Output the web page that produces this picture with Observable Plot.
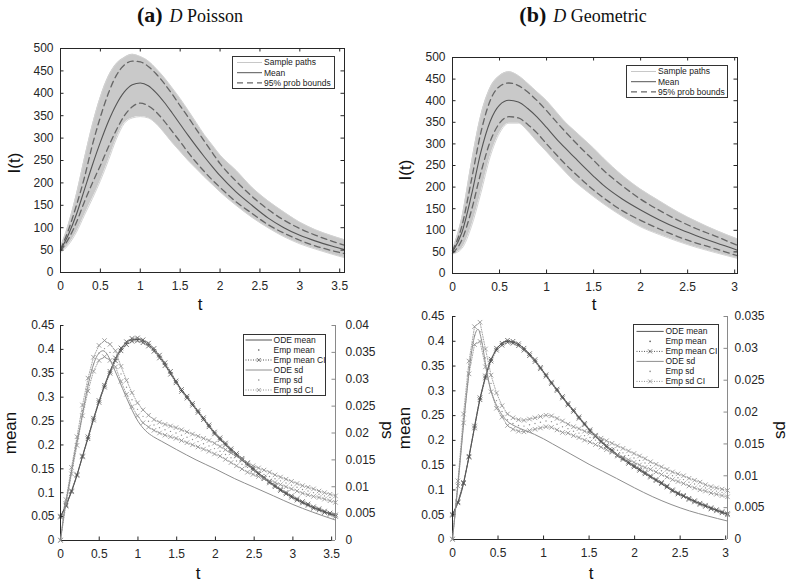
<!DOCTYPE html>
<html><head><meta charset="utf-8">
<script src="https://cdn.jsdelivr.net/npm/d3@7"></script>
<script src="https://cdn.jsdelivr.net/npm/@observablehq/plot@0.6"></script>
<style>
html,body{margin:0;padding:0;background:#fff;}
body{width:788px;height:584px;position:relative;overflow:hidden;font-family:"Liberation Sans",Arial,Helvetica,sans-serif;color:#111;}
.abs{position:absolute;}
.title{font-family:"Liberation Serif","Times New Roman",serif;font-size:18px;white-space:nowrap;transform:translate(-50%,-50%);}
.title b{font-size:22px;margin-right:7px;}
.lab{font-size:17px;white-space:nowrap;transform:translate(-50%,-50%);line-height:1;}
.rot{transform:translate(-50%,-50%) rotate(-90deg);}
</style></head>
<body>
<script>
// ---------- panel (a) top : D Poisson, I(t) ----------
const tTopA = [0,0.1,0.2,0.3,0.4,0.5,0.6,0.7,0.8,0.9,1.0,1.1,1.2,1.3,1.4,1.5,1.6,1.7,1.8,1.9,2.0,2.2,2.4,2.6,2.8,3.0,3.2,3.4,3.56];
const meanTopA = [50,85,130,185,240,291,337,375,403,419,423,417,401,380,356,331,306,282,259,237,216,180,150,122,100,83,70,59,51];
const boundHiA = [52,95,150,212,285,347,400,440,463,472,470,460,443,422,398,372,347,320,294,268,243,204,170,141,117,98,83,70,61];
const boundLoA = [48,75,112,158,200,239,280,318,350,370,378,372,358,338,315,292,268,246,226,207,190,158,132,107,88,72,59,49,42];
const pathsHiA = [56,108,175,255,330,392,438,466,480,487,482,472,455,435,412,388,362,335,308,285,262,228,190,160,135,112,95,82,73];
const pathsLoA = [44,62,90,128,165,205,250,298,333,345,348,345,332,312,290,270,250,232,214,197,180,150,123,100,80,64,52,41,33];

// ---------- panel (b) top : D Geometric, I(t) ----------
const tTopB = [0,0.1,0.2,0.3,0.4,0.5,0.6,0.7,0.8,0.9,1.0,1.1,1.2,1.3,1.4,1.5,1.6,1.8,2.0,2.2,2.4,2.6,2.8,3.03];
const meanTopB = [50,95,180,280,352,390,401,397,382,362,338,313,290,268,246,225,205,173,147,124,104,87,71,54];
const boundHiB = [53,110,215,325,400,433,441,435,420,400,377,352,328,305,283,262,240,204,172,146,123,103,86,65];
const boundLoB = [47,78,145,232,305,348,363,360,345,325,300,276,253,232,212,193,176,146,123,103,85,70,57,41];
const pathsHiB = [55,130,255,365,430,458,467,458,440,420,400,375,350,330,310,290,268,228,195,168,142,120,100,80];
const pathsLoB = [45,58,108,185,270,325,348,348,330,305,282,258,235,213,195,178,162,133,108,90,74,60,48,35];

// ---------- panel (a) bottom : mean / sd ----------
const tOdeA = [0,0.05,0.1,0.15,0.2,0.25,0.3,0.35,0.4,0.45,0.5,0.55,0.6,0.65,0.7,0.8,0.9,1.0,1.1,1.2,1.3,1.5,1.75,2.0,2.25,2.5,2.75,3.0,3.25,3.55];
const odeMeanA = [0.05,0.066,0.085,0.106,0.13,0.157,0.185,0.212,0.24,0.266,0.292,0.316,0.338,0.358,0.377,0.404,0.419,0.421,0.414,0.4,0.38,0.33,0.275,0.223,0.183,0.148,0.116,0.09,0.07,0.052];
const odeSdA = [0,0.0055,0.0095,0.0135,0.0175,0.021,0.0248,0.0285,0.0315,0.0337,0.0349,0.0353,0.0347,0.0333,0.0317,0.0283,0.025,0.0222,0.0204,0.0193,0.0185,0.0169,0.015,0.0133,0.0115,0.0099,0.0083,0.0067,0.0053,0.0038];
const tEmpA = [0,0.071,0.142,0.213,0.284,0.355,0.426,0.497,0.568,0.639,0.71,0.781,0.852,0.923,0.994,1.065,1.136,1.207,1.278,1.349,1.42,1.491,1.562,1.633,1.704,1.775,1.846,1.917,1.988,2.059,2.13,2.201,2.272,2.343,2.414,2.485,2.556,2.627,2.698,2.769,2.84,2.911,2.982,3.053,3.124,3.195,3.266,3.337,3.408,3.479,3.55];
const empMeanA = [0.05,0.073,0.103,0.137,0.176,0.215,0.254,0.291,0.323,0.352,0.379,0.4,0.413,0.42,0.421,0.417,0.41,0.399,0.385,0.369,0.351,0.332,0.314,0.3,0.285,0.27,0.255,0.24,0.225,0.213,0.202,0.19,0.18,0.17,0.16,0.15,0.14,0.131,0.122,0.114,0.106,0.099,0.092,0.086,0.08,0.075,0.069,0.065,0.06,0.056,0.052];
const empMeanHiA = [0.051,0.074,0.104,0.138,0.177,0.217,0.256,0.293,0.325,0.354,0.382,0.403,0.416,0.423,0.424,0.42,0.413,0.402,0.388,0.372,0.354,0.334,0.316,0.302,0.287,0.272,0.257,0.242,0.227,0.215,0.204,0.192,0.182,0.172,0.162,0.152,0.1415,0.1325,0.1235,0.1155,0.1075,0.1005,0.0935,0.0875,0.0815,0.0765,0.0705,0.0665,0.0615,0.0575,0.0535];
const empMeanLoA = [0.049,0.072,0.102,0.136,0.175,0.213,0.252,0.289,0.321,0.35,0.376,0.397,0.41,0.417,0.418,0.414,0.407,0.396,0.382,0.366,0.348,0.33,0.312,0.298,0.283,0.268,0.253,0.238,0.223,0.211,0.2,0.188,0.178,0.168,0.158,0.148,0.1385,0.1295,0.1205,0.1125,0.1045,0.0975,0.0905,0.0845,0.0785,0.0735,0.0675,0.0635,0.0585,0.0545,0.0505];
const empSdA = [0,0.0072,0.013,0.0185,0.0242,0.029,0.0328,0.0349,0.0357,0.035,0.0338,0.031,0.0285,0.0262,0.0244,0.0231,0.0222,0.0215,0.021,0.0206,0.0203,0.02,0.0196,0.0192,0.0188,0.0184,0.018,0.0176,0.0171,0.0166,0.016,0.0154,0.0148,0.0142,0.0136,0.0131,0.0127,0.0123,0.0119,0.0115,0.0111,0.0107,0.0103,0.0099,0.0095,0.0092,0.0089,0.0086,0.0083,0.008,0.0077];
const empSdHiA = [0.0001,0.0076,0.0136,0.0193,0.0252,0.0302,0.0341,0.0363,0.0372,0.0365,0.0353,0.0324,0.0298,0.0275,0.0256,0.0243,0.0233,0.0225,0.022,0.0216,0.0213,0.021,0.0206,0.0202,0.0198,0.0194,0.019,0.0186,0.0181,0.0175,0.0169,0.0163,0.0157,0.0151,0.0145,0.0139,0.0135,0.0131,0.0127,0.0122,0.0118,0.0114,0.011,0.0106,0.0102,0.0099,0.0096,0.0092,0.0089,0.0086,0.0083];
const empSdLoA = [0,0.0068,0.0124,0.0177,0.0232,0.0278,0.0315,0.0335,0.0342,0.0335,0.0323,0.0296,0.0272,0.0249,0.0232,0.0219,0.0211,0.0205,0.02,0.0196,0.0193,0.019,0.0186,0.0182,0.0178,0.0174,0.017,0.0166,0.0161,0.0157,0.0151,0.0145,0.0139,0.0133,0.0127,0.0123,0.0119,0.0115,0.0111,0.0108,0.0104,0.01,0.0096,0.0092,0.0088,0.0085,0.0082,0.008,0.0077,0.0074,0.0071];

// ---------- panel (b) bottom : mean / sd ----------
const tOdeB = [0,0.05,0.1,0.15,0.2,0.25,0.28,0.32,0.36,0.4,0.45,0.5,0.6,0.7,0.8,0.9,1.0,1.1,1.2,1.3,1.4,1.5,1.65,1.8,2.0,2.2,2.4,2.6,2.8,3.02];
const odeMeanB = [0.05,0.07,0.097,0.138,0.185,0.235,0.265,0.298,0.327,0.352,0.373,0.388,0.4,0.396,0.382,0.362,0.338,0.313,0.289,0.266,0.244,0.222,0.195,0.172,0.147,0.124,0.1,0.082,0.066,0.051];
const odeSdB = [0,0.0072,0.0148,0.0222,0.0285,0.0323,0.033,0.0312,0.0278,0.0246,0.0222,0.0206,0.0186,0.0177,0.0171,0.0165,0.0158,0.015,0.0142,0.0134,0.0126,0.0118,0.0107,0.0096,0.0081,0.0067,0.0055,0.0045,0.0037,0.0029];
const tEmpB = [0,0.06,0.121,0.181,0.242,0.302,0.362,0.423,0.483,0.544,0.604,0.664,0.725,0.785,0.846,0.906,0.966,1.027,1.087,1.148,1.208,1.268,1.329,1.389,1.45,1.51,1.57,1.631,1.691,1.752,1.812,1.872,1.933,1.993,2.054,2.114,2.174,2.235,2.295,2.356,2.416,2.476,2.537,2.597,2.658,2.718,2.778,2.839,2.899,2.96,3.02];
const empMeanB = [0.05,0.075,0.114,0.167,0.227,0.284,0.328,0.362,0.384,0.394,0.4,0.398,0.393,0.384,0.373,0.361,0.346,0.331,0.316,0.302,0.287,0.273,0.26,0.246,0.233,0.22,0.209,0.198,0.188,0.179,0.17,0.163,0.155,0.148,0.141,0.134,0.127,0.12,0.114,0.107,0.099,0.093,0.088,0.082,0.077,0.072,0.068,0.063,0.059,0.055,0.051];
const empMeanHiB = [0.051,0.076,0.115,0.168,0.229,0.286,0.33,0.364,0.386,0.396,0.402,0.4,0.395,0.386,0.375,0.363,0.3475,0.3325,0.3175,0.3035,0.2885,0.2745,0.2615,0.2475,0.2345,0.2215,0.2105,0.1995,0.1895,0.1805,0.1715,0.1645,0.1565,0.1495,0.1425,0.1355,0.1282,0.1212,0.1152,0.1082,0.1002,0.0942,0.0892,0.0832,0.0782,0.0732,0.0692,0.0642,0.0602,0.0562,0.0522];
const empMeanLoB = [0.049,0.074,0.113,0.166,0.225,0.282,0.326,0.36,0.382,0.392,0.398,0.396,0.391,0.382,0.371,0.359,0.3445,0.3295,0.3145,0.3005,0.2855,0.2715,0.2585,0.2445,0.2315,0.2185,0.2075,0.1965,0.1865,0.1775,0.1685,0.1615,0.1535,0.1465,0.1395,0.1325,0.1258,0.1188,0.1128,0.1058,0.0978,0.0918,0.0868,0.0808,0.0758,0.0708,0.0668,0.0618,0.0578,0.0538,0.0498];
const empSdB = [0,0.0088,0.019,0.027,0.032,0.0326,0.0285,0.0245,0.0218,0.0201,0.0188,0.0182,0.0179,0.0178,0.018,0.0182,0.0184,0.0186,0.0185,0.0181,0.0177,0.0174,0.017,0.0167,0.0163,0.016,0.0156,0.0152,0.0148,0.0144,0.014,0.0136,0.0132,0.0128,0.0124,0.012,0.0116,0.0112,0.0108,0.0104,0.01,0.0097,0.0094,0.009,0.0087,0.0084,0.0081,0.0078,0.0076,0.0074,0.0072];
const empSdHiB = [0.0001,0.0092,0.0197,0.028,0.0334,0.0341,0.0299,0.0258,0.023,0.021,0.0197,0.0191,0.0188,0.0187,0.0189,0.0191,0.0193,0.0195,0.0194,0.019,0.0186,0.0181,0.0177,0.0174,0.017,0.0167,0.0163,0.0159,0.0155,0.0151,0.0147,0.0143,0.0139,0.0135,0.0131,0.0127,0.0122,0.0118,0.0114,0.011,0.0106,0.0103,0.01,0.0096,0.0093,0.009,0.0086,0.0083,0.0081,0.0079,0.0077];
const empSdLoB = [0,0.0084,0.0183,0.026,0.0306,0.0311,0.0271,0.0232,0.0206,0.0192,0.0179,0.0173,0.017,0.0169,0.0171,0.0173,0.0175,0.0177,0.0176,0.0172,0.0168,0.0167,0.0163,0.016,0.0156,0.0153,0.0149,0.0145,0.0141,0.0137,0.0133,0.0129,0.0125,0.0121,0.0117,0.0113,0.011,0.0106,0.0102,0.0098,0.0094,0.0091,0.0088,0.0084,0.0081,0.0078,0.0076,0.0073,0.0071,0.0069,0.0067];

// ---------- ticks and texts ----------
const xTicksA = [0,0.5,1,1.5,2,2.5,3,3.5];
const xTicksB = [0,0.5,1,1.5,2,2.5,3];
const iTicks = [0,50,100,150,200,250,300,350,400,450,500];
const meanTicks = [0,0.05,0.1,0.15,0.2,0.25,0.3,0.35,0.4,0.45];
const sdTicksA = [0,0.005,0.01,0.015,0.02,0.025,0.03,0.035,0.04];
const sdTicksB = [0,0.005,0.01,0.015,0.02,0.025,0.03,0.035];
const topLegendLabels = ["Sample paths","Mean","95% prob bounds"];
const bottomLegendLabels = ["ODE mean","Emp mean","Emp mean CI","ODE sd","Emp sd","Emp sd CI"];

// ---------- drawing ----------
const FONT = "'Liberation Sans', Arial, Helvetica, sans-serif";
const AX = "#262626";
const MEANC = "#555555";
const SDC = "#8e8e8e";
const TICK = 3.5;
const CURVE = "monotone-x";

function place(node, left, top) {
  node.style.position = "absolute";
  node.style.left = left + "px";
  node.style.top = top + "px";
  document.body.appendChild(node);
}
function style() {
  return {fontFamily: FONT, fontSize: "12px", background: "transparent", color: AX, overflow: "visible"};
}

function topPanel(o) {
  const rows = o.t.map((t, i) => ({t, lo: o.pLo[i], hi: o.pHi[i], m: o.mean[i], bl: o.bLo[i], bh: o.bHi[i]}));
  const fw = o.width - o.ml - o.mr, fh = o.height - o.mt - o.mb;
  return Plot.plot({
    width: o.width, height: o.height,
    marginLeft: o.ml, marginRight: o.mr, marginTop: o.mt, marginBottom: o.mb,
    x: {domain: [0, o.xmax]}, y: {domain: [0, 500]},
    style: style(),
    marks: [
      Plot.areaY(rows, {x: "t", y1: "lo", y2: "hi", fill: "#c9c9c9", curve: CURVE}),
      Plot.line(rows, {x: "t", y: "hi", stroke: "#d3d3d3", strokeWidth: 1, curve: CURVE}),
      Plot.line(rows, {x: "t", y: "lo", stroke: "#d3d3d3", strokeWidth: 1, curve: CURVE}),
      Plot.line(rows, {x: "t", y: "bh", stroke: "#666", strokeWidth: 1.3, strokeDasharray: "6,4", curve: CURVE}),
      Plot.line(rows, {x: "t", y: "bl", stroke: "#666", strokeWidth: 1.3, strokeDasharray: "6,4", curve: CURVE}),
      Plot.line(rows, {x: "t", y: "m", stroke: "#555", strokeWidth: 1.1, curve: CURVE}),
      Plot.frame({stroke: AX}),
      Plot.ruleX(o.xticks, {stroke: AX, insetTop: fh - TICK}),
      Plot.ruleX(o.xticks, {stroke: AX, insetBottom: fh - TICK}),
      Plot.ruleY(iTicks, {stroke: AX, insetRight: fw - TICK}),
      Plot.ruleY(iTicks, {stroke: AX, insetLeft: fw - TICK}),
      Plot.axisX(o.xticks, {tickSize: 0, tickPadding: 9, label: null, tickFormat: d => String(d)}),
      Plot.axisY(iTicks, {tickSize: 0, tickPadding: o.lpad, label: null, tickFormat: d => String(d)})
    ]
  });
}

function meanPanel(o) {
  const ode = o.tOde.map((t, i) => ({t, v: o.odeMean[i]}));
  const emp = o.tEmp.map((t, i) => ({t, m: o.empMean[i], lo: o.lo[i], hi: o.hi[i]}));
  const fw = o.width - o.ml - o.mr, fh = o.height - o.mt - o.mb;
  return Plot.plot({
    width: o.width, height: o.height,
    marginLeft: o.ml, marginRight: o.mr, marginTop: o.mt, marginBottom: o.mb,
    x: {domain: [0, o.xmax]}, y: {domain: [0, 0.45]},
    style: style(),
    marks: [
      Plot.line(emp, {x: "t", y: "hi", stroke: MEANC, strokeWidth: 0.8, strokeDasharray: "1,1.5"}),
      Plot.line(emp, {x: "t", y: "lo", stroke: MEANC, strokeWidth: 0.8, strokeDasharray: "1,1.5"}),
      Plot.line(ode, {x: "t", y: "v", stroke: MEANC, strokeWidth: 1, curve: CURVE}),
      Plot.dot(emp, {x: "t", y: "hi", symbol: "times", r: 2.2, stroke: MEANC, strokeWidth: 0.8}),
      Plot.dot(emp, {x: "t", y: "lo", symbol: "times", r: 2.2, stroke: MEANC, strokeWidth: 0.8}),
      Plot.dot(emp, {x: "t", y: "m", r: 0.7, fill: MEANC, stroke: null}),
      Plot.ruleX([0], {stroke: AX}),
      Plot.ruleY([0], {stroke: AX}),
      Plot.ruleX(o.xticks, {stroke: AX, insetTop: fh - TICK}),
      Plot.ruleY(meanTicks, {stroke: AX, insetRight: fw - TICK}),
      Plot.axisX(o.xticks, {tickSize: 0, tickPadding: 9, label: null, tickFormat: d => String(d)}),
      Plot.axisY(meanTicks, {tickSize: 0, tickPadding: o.lpad, label: null, tickFormat: d => String(d)})
    ]
  });
}

function sdPanel(o) {
  const ode = o.tOde.map((t, i) => ({t, v: o.odeSd[i]}));
  const emp = o.tEmp.map((t, i) => ({t, s: o.empSd[i], lo: o.lo[i], hi: o.hi[i]}));
  const fw = o.width - o.ml - o.mr;
  return Plot.plot({
    width: o.width, height: o.height,
    marginLeft: o.ml, marginRight: o.mr, marginTop: o.mt, marginBottom: o.mb,
    x: {domain: [0, o.xmax], axis: null}, y: {domain: [0, o.sdmax]},
    style: style(),
    marks: [
      Plot.line(emp, {x: "t", y: "hi", stroke: SDC, strokeWidth: 0.8, strokeDasharray: "1,1.5"}),
      Plot.line(emp, {x: "t", y: "lo", stroke: SDC, strokeWidth: 0.8, strokeDasharray: "1,1.5"}),
      Plot.line(ode, {x: "t", y: "v", stroke: SDC, strokeWidth: 1, curve: CURVE}),
      Plot.dot(emp, {x: "t", y: "hi", symbol: "times", r: 2.2, stroke: SDC, strokeWidth: 0.8}),
      Plot.dot(emp, {x: "t", y: "lo", symbol: "times", r: 2.2, stroke: SDC, strokeWidth: 0.8}),
      Plot.dot(emp, {x: "t", y: "s", r: 0.7, fill: SDC, stroke: null}),
      Plot.ruleX([o.xmax], {stroke: "#8a8a8a"}),
      Plot.ruleY(o.sdticks, {stroke: "#8a8a8a", insetLeft: fw - TICK}),
      Plot.axisY(o.sdticks, {anchor: "right", tickSize: 0, tickPadding: o.rpad, label: null, tickFormat: d => String(d)})
    ]
  });
}

function legend(x, y, w, h, labels, kinds, opt) {
  const svg = d3.create("svg").attr("width", w).attr("height", h)
    .style("font-family", FONT).style("font-size", "8.5px");
  svg.append("rect").attr("x", 0.5).attr("y", 0.5).attr("width", w - 1).attr("height", h - 1)
    .attr("fill", "#fff").attr("stroke", "#333").attr("stroke-width", 1);
  labels.forEach((lab, i) => {
    const k = kinds[i];
    const cy = opt.y0 + i * opt.dy;
    const xm = (opt.x1 + opt.x2) / 2;
    if (k.type === "line" || k.type === "dash" || k.type === "ci") {
      svg.append("line").attr("x1", opt.x1).attr("x2", opt.x2).attr("y1", cy).attr("y2", cy)
        .attr("stroke", k.color).attr("stroke-width", k.w || 1)
        .attr("stroke-dasharray", k.type === "dash" ? "6,4" : k.type === "ci" ? "1,1.5" : null);
    }
    if (k.type === "ci") {
      svg.append("path").attr("d", `M${xm-2},${cy-2}L${xm+2},${cy+2}M${xm-2},${cy+2}L${xm+2},${cy-2}`)
        .attr("stroke", k.color).attr("stroke-width", 0.8);
    }
    if (k.type === "dot") {
      svg.append("circle").attr("cx", xm).attr("cy", cy).attr("r", 0.8).attr("fill", k.color);
    }
    svg.append("text").attr("x", opt.tx).attr("y", cy).attr("dy", "0.35em").attr("fill", "#1a1a1a").text(lab);
  });
  place(svg.node(), x, y);
}

function text(html, x, y, cls) {
  const d = document.createElement("div");
  d.className = "abs " + cls;
  d.innerHTML = html;
  d.style.left = x + "px";
  d.style.top = y + "px";
  document.body.appendChild(d);
}

// Top panels
place(topPanel({width: 394, height: 270, ml: 60, mr: 50, mt: 20, mb: 26, xmax: 3.56, xticks: xTicksA, lpad: 7,
  t: tTopA, mean: meanTopA, bHi: boundHiA, bLo: boundLoA, pHi: pathsHiA, pLo: pathsLoA}), 0, 28);
place(topPanel({width: 394, height: 270, ml: 58, mr: 51, mt: 29, mb: 25, xmax: 3.03, xticks: xTicksB, lpad: 7,
  t: tTopB, mean: meanTopB, bHi: boundHiB, bLo: boundLoB, pHi: pathsHiB, pLo: pathsLoB}), 394, 28);

// Bottom panels (two overlaid SVGs each: mean on the left axis, sd on the right axis)
const bA = {width: 394, height: 252, ml: 60, mr: 59, mt: 15, mb: 22, xmax: 3.55, xticks: xTicksA};
place(meanPanel({...bA, lpad: 6, tOde: tOdeA, odeMean: odeMeanA, tEmp: tEmpA, empMean: empMeanA, hi: empMeanHiA, lo: empMeanLoA}), 0, 310);
place(sdPanel({...bA, rpad: 10, sdmax: 0.04, sdticks: sdTicksA, tOde: tOdeA, odeSd: odeSdA, tEmp: tEmpA, empSd: empSdA, hi: empSdHiA, lo: empSdLoA}), 0, 310);

const bB = {width: 394, height: 262, ml: 58, mr: 61, mt: 16, mb: 23, xmax: 3.02, xticks: xTicksB};
place(meanPanel({...bB, lpad: 8, tOde: tOdeB, odeMean: odeMeanB, tEmp: tEmpB, empMean: empMeanB, hi: empMeanHiB, lo: empMeanLoB}), 394, 300);
place(sdPanel({...bB, rpad: 7, sdmax: 0.035, sdticks: sdTicksB, tOde: tOdeB, odeSd: odeSdB, tEmp: tEmpB, empSd: empSdB, hi: empSdHiB, lo: empSdLoB}), 394, 300);

// Legends
const topKinds = [{type: "line", color: "#c8c8c8"}, {type: "line", color: "#555"}, {type: "dash", color: "#666", w: 1.3}];
legend(232, 56, 103, 33, topLegendLabels, topKinds, {x1: 5, x2: 30, tx: 32, y0: 6.5, dy: 10.2});
legend(626, 65, 102, 33, topLegendLabels, topKinds, {x1: 5, x2: 30, tx: 32, y0: 6.5, dy: 10.2});
const botKinds = [{type: "line", color: MEANC}, {type: "dot", color: MEANC}, {type: "ci", color: MEANC},
                  {type: "line", color: SDC}, {type: "dot", color: SDC}, {type: "ci", color: SDC}];
legend(243, 334, 83, 62, bottomLegendLabels, botKinds, {x1: 2.5, x2: 29, tx: 30.6, y0: 6, dy: 10});
legend(633, 324, 86, 64, bottomLegendLabels, botKinds, {x1: 3.5, x2: 30.7, tx: 32.4, y0: 7.4, dy: 10});

// Titles and axis labels
text("<b>(a)</b><i>D</i> Poisson", 190, 15, "title");
text("<b>(b)</b><i>D</i> Geometric", 583, 15, "title");
text("I(t)", 14, 163, "lab rot");
text("I(t)", 405, 170, "lab rot");
text("t", 200, 304, "lab");
text("t", 594, 304, "lab");
text("mean", 10, 433, "lab rot");
text("mean", 404, 428, "lab rot");
text("sd", 385, 430, "lab rot");
text("sd", 779, 430, "lab rot");
text("t", 198, 573, "lab");
text("t", 591, 573, "lab");
</script>
</body></html>
